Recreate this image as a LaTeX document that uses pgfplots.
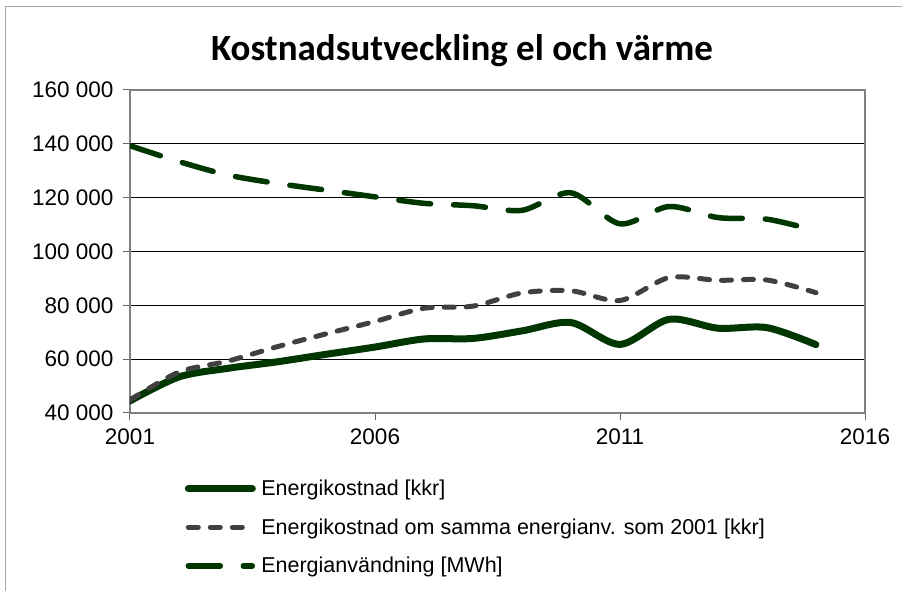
\documentclass[border=0pt]{standalone}
\usepackage{pgfplots}
\pgfplotsset{compat=1.18}
\usepackage{fontspec}
\setmainfont{Liberation Sans}
\newfontfamily\titlefont{Carlito}
\definecolor{dgreen}{RGB}{0,55,0}
\definecolor{dgrey}{RGB}{64,64,64}
\begin{document}
\begin{tikzpicture}[x=1pt,y=1pt]
\useasboundingbox (0,0) rectangle (902,591);
\draw[gray!70, line width=1pt] (5,0) -- (5,584) -- (902,584);
\node[font=\titlefont\bfseries\fontsize{37}{44}\selectfont] at (462,540) {Kostnadsutveckling el och värme};
\begin{axis}[at={(130pt,178pt)}, anchor=south west, scale only axis,
  width=735pt, height=323pt,
  xmin=2001, xmax=2016, ymin=40000, ymax=160000,
  xtick={2001,2006,2011,2016},
  ytick={40000,60000,80000,100000,120000,140000,160000},
  scaled y ticks=false, scaled x ticks=false,
  /pgf/number format/assume math mode=true,
  /pgf/number format/fixed, /pgf/number format/precision=0,
  x tick label style={/pgf/number format/1000 sep={}, yshift=-5pt},
  y tick label style={/pgf/number format/1000 sep={\ }, xshift=-6pt},
  tick label style={font=\fontsize{22.5}{26}\selectfont},
  ymajorgrids, major grid style={black, line width=0.8pt},
  axis line style={gray, line width=1.6pt},
  tick style={gray!80!black, line width=1pt},
  major tick length=7pt, tick align=outside, tick pos=left,
  legend style={at={(0.075,-0.201)}, anchor=north west, draw=none, fill=none,
    font=\fontsize{21.5}{25}\selectfont, row sep=17.5pt, inner sep=0pt},
  legend cell align=left,
  legend image code/.code={\draw[#1,overlay] (3pt,0pt) -- (67pt,0pt); \path[draw=none,fill=none] (0pt,-4pt) rectangle (74pt,4pt);},
]
\addplot[dgreen, line width=7pt, smooth, tension=0.5, line cap=round] coordinates {
(2001,44500) (2002,53400) (2003,56600) (2004,59000) (2005,61800) (2006,64500)
(2007,67500) (2008,67700) (2009,70500) (2010,73600) (2011,65500) (2012,74800)
(2013,71500) (2014,71700) (2015,65400)};
\addlegendentry{Energikostnad [kkr]}
\addplot[dgrey, line width=5pt, smooth, tension=0.5, line cap=round, dash pattern=on 10pt off 12pt] coordinates {
(2001,44800) (2002,55200) (2003,59300) (2004,64600) (2005,69400) (2006,74000)
(2007,78900) (2008,79700) (2009,84600) (2010,85400) (2011,81800) (2012,90300)
(2013,89300) (2014,89400) (2015,84700)};
\addlegendentry{Energikostnad om samma energianv. som 2001 [kkr]}
\addplot[dgreen, line width=5.5pt, smooth, tension=0.5, line cap=round, dash pattern=on 32pt off 23pt] coordinates {
(2001,139300) (2002,133400) (2003,128400) (2004,125300) (2005,122800) (2006,120300)
(2007,117900) (2008,117000) (2009,115300) (2010,121800) (2011,110300) (2012,116700)
(2013,112600) (2014,112000) (2015,107700)};
\addlegendentry{Energianvändning [MWh]}
\end{axis}
\end{tikzpicture}
\end{document}
